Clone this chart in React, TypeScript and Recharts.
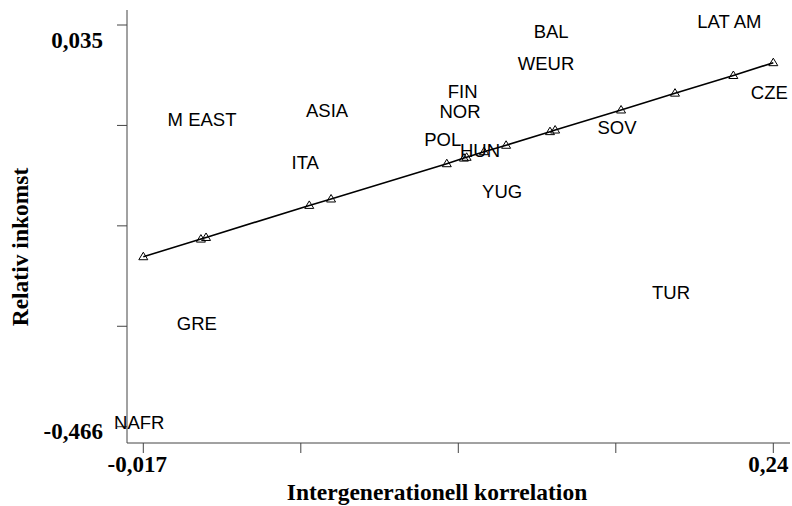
import React from "react";
import {
  ScatterChart,
  Scatter,
  XAxis,
  YAxis,
  Label,
} from "recharts";

// country groups, as labelled in the plot
const countries = [
  "NAFR", "GRE", "M EAST", "ITA", "ASIA", "POL", "NOR", "FIN",
  "HUN", "YUG", "WEUR", "BAL", "SOV", "TUR", "LAT AM", "CZE",
];

// intergenerational correlation (x)
const correlation = [
  -0.017, 0.0065, 0.0086, 0.0507, 0.0596, 0.1068, 0.1138, 0.1149,
  0.122, 0.131, 0.1489, 0.151, 0.1779, 0.1999, 0.2237, 0.24,
];

// relative income (y)
const relIncome = [
  -0.466, -0.342, -0.087, -0.141, -0.076, -0.113, -0.077, -0.053,
  -0.126, -0.177, -0.018, 0.022, -0.098, -0.303, 0.035, -0.054,
];

// fitted values on the regression line
const fitted = [
  -0.254, -0.232, -0.23, -0.19, -0.182, -0.138, -0.131, -0.13,
  -0.123, -0.115, -0.098, -0.096, -0.071, -0.05, -0.028, -0.012,
];

const xTicks = [-0.017, 0.04725, 0.1115, 0.17575, 0.24];
const yTicks = [0.035, -0.09025, -0.2155, -0.34075, -0.466];

const labelData = countries.map((name, i) => ({
  name,
  x: correlation[i],
  y: relIncome[i],
}));

const fitData = countries.map((name, i) => ({
  name,
  x: correlation[i],
  y: fitted[i],
}));

const serif = "'Liberation Serif', 'Times New Roman', serif";
const sans = "'Liberation Sans', Arial, sans-serif";
const axisColor = "#444";

const fmt = (v: number) => String(v).replace(".", ",");

function XTick(props: any) {
  const { x, payload } = props;
  const v = payload.value;
  if (v !== xTicks[0] && v !== xTicks[xTicks.length - 1]) return null;
  return (
    <text
      x={x + (v === xTicks[0] ? -6 : -5)}
      y={472}
      textAnchor="middle"
      fontFamily={serif}
      fontWeight="bold"
      fontSize={23}
      fill="#000"
    >
      {fmt(v)}
    </text>
  );
}

function YTick(props: any) {
  const { y, payload } = props;
  const v = payload.value;
  if (v !== yTicks[0] && v !== yTicks[yTicks.length - 1]) return null;
  return (
    <text
      x={103}
      y={y + (v === yTicks[0] ? 22.5 : 12)}
      textAnchor="end"
      fontFamily={serif}
      fontWeight="bold"
      fontSize={23}
      fill="#000"
    >
      {fmt(v)}
    </text>
  );
}

function CountryLabel(props: any) {
  const { cx, cy, payload } = props;
  return (
    <text
      x={cx - 4}
      y={cy + 2.7}
      textAnchor="middle"
      fontFamily={sans}
      fontSize={18.5}
      fill="#000"
    >
      {payload.name}
    </text>
  );
}

function Triangle(props: any) {
  const { cx, cy } = props;
  return (
    <path
      d={`M${cx},${cy - 4.5}L${cx - 4.5},${cy + 3}L${cx + 4.5},${cy + 3}Z`}
      fill="none"
      stroke="#000"
      strokeWidth={1}
    />
  );
}

export default function App() {
  return (
    <div style={{ width: 792, height: 506 }}>
      <style>{"body{margin:0;background:#fff}"}</style>
      <ScatterChart
        width={792}
        height={506}
        margin={{ top: 10, right: 2, left: 0, bottom: 0 }}
      >
        <XAxis
          type="number"
          dataKey="x"
          domain={[-0.02365, 0.24681]}
          ticks={xTicks}
          interval={0}
          tickSize={10}
          height={63}
          stroke={axisColor}
          tick={<XTick />}
        >
          <Label
            content={() => (
              <text
                x={437}
                y={500}
                textAnchor="middle"
                fontFamily={serif}
                fontWeight="bold"
                fontSize={23.5}
                fill="#000"
              >
                Intergenerationell korrelation
              </text>
            )}
          />
        </XAxis>
        <YAxis
          type="number"
          dataKey="y"
          domain={[-0.48633, 0.05371]}
          ticks={yTicks}
          interval={0}
          tickSize={10}
          width={127}
          stroke={axisColor}
          tick={<YTick />}
        >
          <Label
            content={() => (
              <text
                x={20}
                y={247}
                transform="rotate(-90, 20, 247)"
                textAnchor="middle"
                dominantBaseline="central"
                fontFamily={serif}
                fontWeight="bold"
                fontSize={23.5}
                fill="#000"
              >
                Relativ inkomst
              </text>
            )}
          />
        </YAxis>
        <Scatter
          data={fitData}
          line={{ stroke: "#000", strokeWidth: 1.6 }}
          shape={<Triangle />}
          isAnimationActive={false}
        />
        <Scatter
          data={labelData}
          shape={<CountryLabel />}
          isAnimationActive={false}
        />
      </ScatterChart>
    </div>
  );
}
